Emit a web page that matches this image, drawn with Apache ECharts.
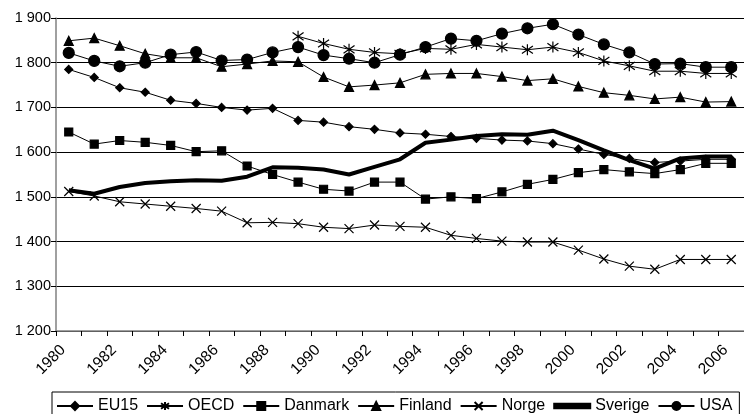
<!DOCTYPE html>
<html><head><meta charset="utf-8">
<script src="https://cdn.jsdelivr.net/npm/echarts@6/dist/echarts.min.js"></script>
<style>html,body{margin:0;padding:0;background:#fff}#c{width:744px;height:414px}</style>
</head><body><div id="c"></div>
<script>
var years = ['1980','1981','1982','1983','1984','1985','1986','1987','1988','1989','1990','1991','1992','1993','1994','1995','1996','1997','1998','1999','2000','2001','2002','2003','2004','2005','2006'];
var yTicks = [1200, 1300, 1400, 1500, 1600, 1700, 1800, 1900];
var EU15 = [1785,1767,1744,1734,1716,1709,1700,1694,1698,1671,1667,1657,1651,1643,1640,1635,1631,1627,1625,1619,1607,1595,1586,1577,1580,1584,1584];
var OECD = [null,null,null,null,null,null,null,null,null,1859,1843,1830,1823,1820,1832,1830,1841,1835,1829,1835,1823,1804,1793,1781,1781,1776,1776];
var Danmark = [1645,1618,1626,1622,1615,1601,1603,1569,1550,1533,1517,1513,1533,1533,1495,1500,1496,1511,1528,1539,1554,1561,1556,1552,1561,1575,1575];
var Finland = [1849,1855,1838,1820,1811,1811,1791,1797,1804,1802,1768,1746,1750,1755,1774,1776,1776,1769,1760,1764,1747,1733,1727,1719,1723,1712,1713];
var Norge = [1512,1502,1489,1484,1479,1474,1468,1442,1443,1440,1432,1429,1437,1434,1432,1414,1407,1401,1399,1399,1381,1361,1345,1338,1360,1360,1360];
var Sverige = [1515,1507,1522,1531,1535,1537,1536,1545,1566,1565,1561,1550,1567,1584,1621,1628,1636,1640,1639,1648,1627,1604,1582,1563,1586,1590,1590];
var USA = [1822,1804,1792,1800,1818,1824,1805,1807,1823,1835,1817,1809,1800,1818,1835,1854,1849,1865,1877,1886,1863,1841,1823,1797,1798,1790,1790];

var FONT = '"Liberation Sans", Arial, sans-serif';
var STAR = 'path://M5,0L5,10M0,1.5L10,8.5M0,8.5L10,1.5';
var CROSS = 'path://M0,0L10,10M0,10L10,0';
var THICK = 'path://M0,0L36,0L36,4.5L0,4.5Z';

function mk(name, data, symbol, size, extra) {
  var s = {
    name: name, type: 'line', data: data, symbol: symbol, symbolSize: size,
    showSymbol: true, animation: false, connectNulls: false,
    lineStyle: { color: '#000', width: 1 },
    itemStyle: { color: '#000', borderColor: '#000', borderWidth: 1.2 }
  };
  if (extra) for (var k in extra) s[k] = extra[k];
  return s;
}

var chart = echarts.init(document.getElementById('c'));
chart.setOption({
  animation: false,
  backgroundColor: '#fff',
  grid: { left: 56, top: 18, right: -6, bottom: 83, containLabel: false },
  xAxis: {
    type: 'category', data: years, boundaryGap: true,
    axisLine: { lineStyle: { color: '#808080', width: 1.5 } },
    axisTick: { show: true, interval: 0, length: 5, lineStyle: { color: '#000' } },
    axisLabel: { interval: 1, rotate: 45, fontFamily: FONT, fontSize: 15.5, color: '#000', margin: 11, padding: [0, 8, 0, 0] },
    splitLine: { show: false }
  },
  yAxis: {
    type: 'value', min: yTicks[0], max: yTicks[yTicks.length - 1], interval: 100,
    axisLine: { show: true, lineStyle: { color: '#808080', width: 1.5 } },
    axisTick: { show: true, length: 5, lineStyle: { color: '#000' } },
    axisLabel: {
      fontFamily: FONT, fontSize: 14.5, color: '#000', margin: 5,
      formatter: function (v) { return String(v).replace(/\B(?=(\d{3})+(?!\d))/g, ' '); }
    },
    splitLine: { show: true, lineStyle: { color: '#000', width: 1 } }
  },
  legend: {
    left: 52, top: 392, orient: 'horizontal',
    borderColor: '#000', borderWidth: 1, padding: [6, 7, 8, 4],
    itemGap: 8, itemWidth: 36, itemHeight: 10, symbolKeepAspect: true,
    textStyle: { fontFamily: FONT, fontSize: 16, color: '#000' },
    data: ['EU15', 'OECD', 'Danmark', 'Finland', 'Norge', { name: 'Sverige', icon: THICK }, 'USA']
  },
  series: [
    mk('EU15', EU15, 'diamond', 8),
    mk('OECD', OECD, STAR, 11),
    mk('Danmark', Danmark, 'rect', 8),
    mk('Finland', Finland, 'triangle', 9),
    mk('Norge', Norge, CROSS, 9),
    mk('Sverige', Sverige, 'none', 0, { lineStyle: { color: '#000', width: 4 } }),
    mk('USA', USA, 'circle', 11)
  ]
});
</script></body></html>
